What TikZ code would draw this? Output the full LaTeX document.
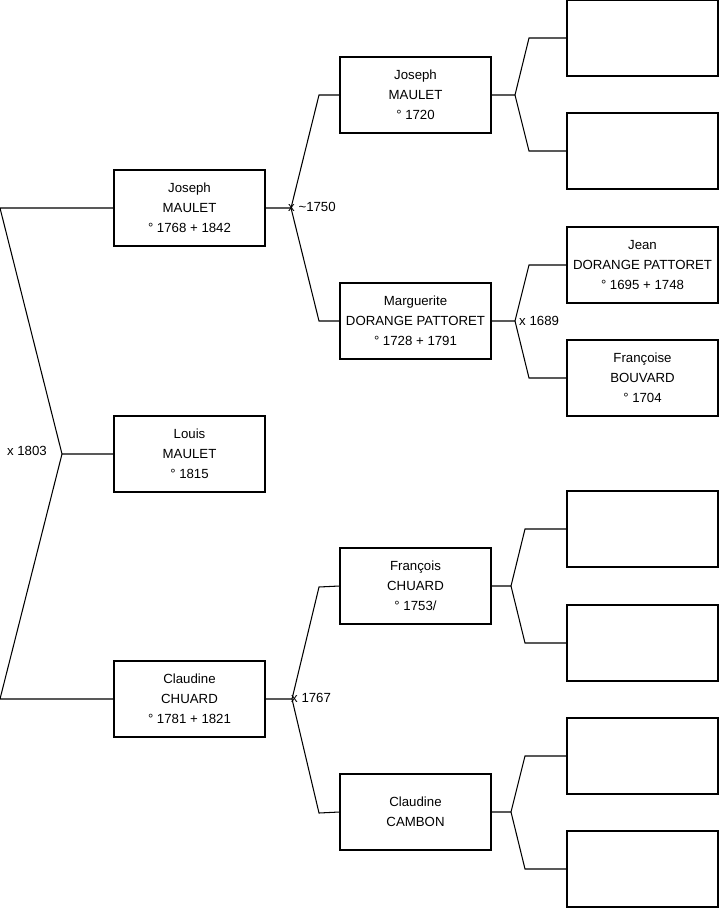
\documentclass[tikz,border=0pt]{standalone}
\usepackage{fontspec}
\setmainfont{Liberation Sans}
\begin{document}
\begin{tikzpicture}[
  x=0.03cm,y=-0.03cm,
  every node/.style={font=\fontsize{11.3}{17}\selectfont},
  personbox/.style={rectangle,draw=black,line width=0.9pt,align=center,
    minimum width=4.53cm,minimum height=2.28cm,inner sep=0pt},
  forkline/.style={draw=black,line width=0.9pt},
  marriage/.style={inner sep=0pt},
]
\useasboundingbox (0,0) rectangle (719,908);

% ---------- Generation 1 ----------
\node[personbox] (LM) at (189.5,454) {Louis\\MAULET\\° 1815};

% ---------- Generation 2 ----------
\node[personbox] (JM) at (189.5,208) {Joseph\\MAULET\\° 1768 + 1842};
\node[personbox] (CC) at (189.5,699) {Claudine\\CHUARD\\° 1781 + 1821};

% ---------- Generation 3 ----------
\node[personbox] (JMP) at (415.5,95)  {Joseph\\MAULET\\° 1720};
\node[personbox] (MDP) at (415.5,321) {Marguerite\\DORANGE PATTORET\\° 1728 + 1791};
\node[personbox] (FC)  at (415.5,586) {François\\CHUARD\\° 1753/};
\node[personbox] (CCA) at (415.5,812) {Claudine\\CAMBON};

% ---------- Generation 4 ----------
\node[personbox] (G1) at (642.5,38)  {};
\node[personbox] (G2) at (642.5,151) {};
\node[personbox] (JDP) at (642.5,265) {Jean\\DORANGE PATTORET\\° 1695 + 1748};
\node[personbox] (FB) at (642.5,378) {Françoise\\BOUVARD\\° 1704};
\node[personbox] (G5) at (642.5,529) {};
\node[personbox] (G6) at (642.5,643) {};
\node[personbox] (G7) at (642.5,756) {};
\node[personbox] (G8) at (642.5,869) {};

% ---------- Forks ----------
\coordinate (F1) at (62,454);
\draw[forkline] (LM.west) -- (F1) -- (0,208) -- (JM.west);
\draw[forkline] (F1) -- (0,699) -- (CC.west);
\node[marriage,anchor=east] (M1) at (47,451) {x 1803};

\coordinate (F2) at (291,208);
\draw[forkline] (JM.east) -- (F2) -- (319,95) -- (JMP.west);
\draw[forkline] (F2) -- (319,321) -- (MDP.west);
\node[marriage,anchor=west] (M2) at (288,207) {x \textasciitilde1750};

\coordinate (F3) at (292,699);
\draw[forkline] (CC.east) -- (F3) -- (319,587) -- (FC.west);
\draw[forkline] (F3) -- (319,813) -- (CCA.west);
\node[marriage,anchor=west] (M3) at (291,698) {x 1767};

\coordinate (F4) at (515,95);
\draw[forkline] (JMP.east) -- (F4) -- (529,38) -- (G1.west);
\draw[forkline] (F4) -- (529,151) -- (G2.west);

\coordinate (F5) at (515,321);
\draw[forkline] (MDP.east) -- (F5) -- (529,265) -- (JDP.west);
\draw[forkline] (F5) -- (529,378) -- (FB.west);
\node[marriage,anchor=west] (M4) at (519,321) {x 1689};

\coordinate (F6) at (511,586);
\draw[forkline] (FC.east) -- (F6) -- (525,529) -- (G5.west);
\draw[forkline] (F6) -- (525,643) -- (G6.west);

\coordinate (F7) at (511,812);
\draw[forkline] (CCA.east) -- (F7) -- (525,756) -- (G7.west);
\draw[forkline] (F7) -- (525,869) -- (G8.west);

\end{tikzpicture}
\end{document}
